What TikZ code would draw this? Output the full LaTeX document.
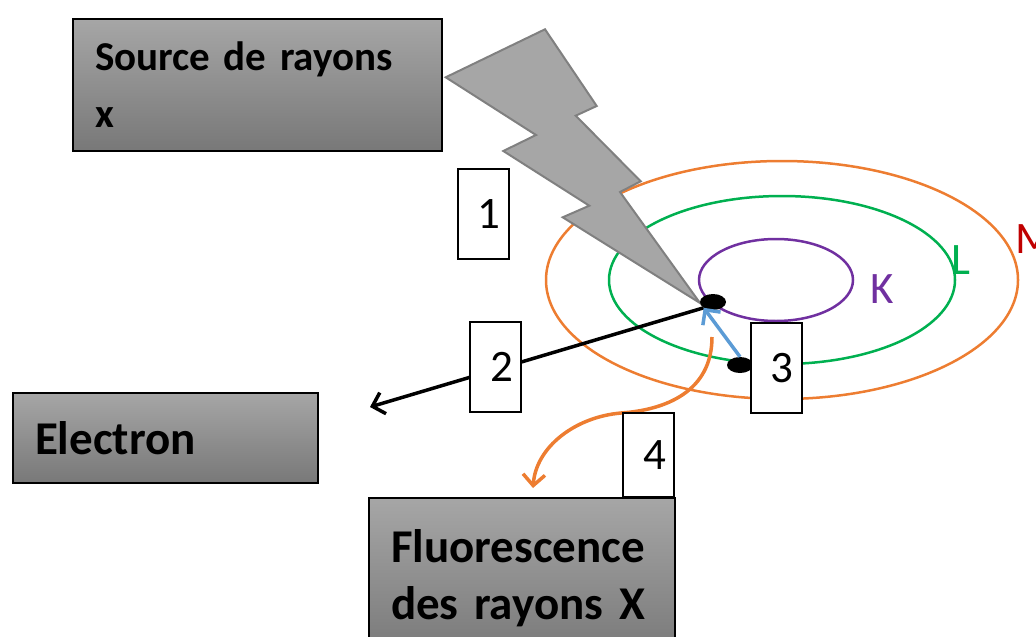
\documentclass[tikz,border=0pt]{standalone}
\usepackage{fontspec}
\setmainfont{Carlito}
\usetikzlibrary{arrows.meta,shapes.geometric}

\definecolor{shellK}{RGB}{112,48,160}
\definecolor{shellL}{RGB}{0,176,80}
\definecolor{shellM}{RGB}{237,125,49}
\definecolor{labelM}{RGB}{192,0,0}
\definecolor{jump}{RGB}{91,155,213}
\definecolor{boltfill}{RGB}{166,166,166}
\definecolor{boltline}{RGB}{128,128,128}
\definecolor{boxtop}{RGB}{166,166,166}
\definecolor{boxbot}{RGB}{120,120,120}

\tikzset{
  graybox/.style={draw=black, line width=2, top color=boxtop, bottom color=boxbot,
    anchor=north west, inner xsep=22, align=left,
    font=\fontsize{47}{57}\selectfont\bfseries},
  numbox/.style={draw=black, fill=white, line width=2, minimum width=51,
    minimum height=90, inner xsep=8, text width=35, align=right,
    font=\fontsize{45}{50}\selectfont},
  electron/.style={ellipse, fill=black, minimum width=26, minimum height=16, inner sep=0},
  shell/.style={line width=2.5},
  shellname/.style={anchor=base west, inner sep=0, font=\fontsize{45}{50}\selectfont},
  barb/.style={-{Straight Barb[length=11pt,width=22pt]}, line width=3.5}
}

\begin{document}
\begin{tikzpicture}[x=1pt,y=-1pt]
\useasboundingbox (0,0) rectangle (1036,637);
\clip (0,0) rectangle (1036,637);

% shells K, L, M
\draw[shell, shellM] (782,280) ellipse [x radius=236, y radius=119];
\draw[shell, shellL] (782,280) ellipse [x radius=173, y radius=84];
\draw[shell, shellK] (776,280) ellipse [x radius=77, y radius=41];
\node[shellname, text=shellK] (K) at (870,303) {K};
\node[shellname, text=shellL] (L) at (951,274) {L};
\node[shellname, text=labelM] (M) at (1015,253) {M};

% incoming x-ray
\draw[fill=boltfill, draw=boltline, line width=2, line join=miter]
  (445.7,77.3) -- (545,29.3) -- (596.7,106) -- (575.7,115.7) -- (640.7,181.3)
  -- (620,192) -- (700,303) -- (562.7,217.3) -- (589.3,205.7) -- (503.3,151)
  -- (536,135) -- cycle;

\node[electron] (e1) at (713,302) {};
\node[electron] (e2) at (740,365) {};
\coordinate (eject) at (370,407);
\coordinate (emit) at (712,337);
\coordinate (photon) at (533,488);

\draw[barb, black] (e1.south west) -- (eject);
\draw[barb, jump] (e2.north) -- (e1.south west);
\draw[barb, shellM] (emit) .. controls (712,392) and (665,410) .. (621,413)
  .. controls (575,417) and (536,447) .. (photon);

\node[numbox] (n1) at (483,214) {1};
\node[numbox] (n2) at (495.5,366.5) {2};
\node[numbox] (n3) at (776,368.3) {3};
\node[numbox, minimum height=84] (n4) at (648.7,454.7) {4};

\node[graybox, minimum width=369, minimum height=132, text width=325,
  font=\fontsize{41}{57}\selectfont\bfseries] (source)
  at (72,18) {Source de rayons\\x};
\node[graybox, minimum width=305, minimum height=90, text width=261] (electronbox)
  at (12,392) {Electron};
\node[graybox, minimum width=306, minimum height=160, text width=262] (fluo)
  at (368,497) {Fluorescence\\des rayons X};
\end{tikzpicture}
\end{document}
